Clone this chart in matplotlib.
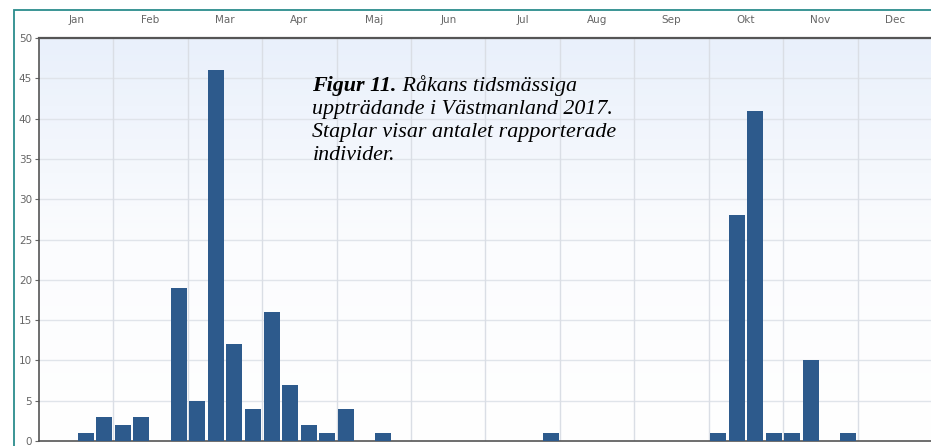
import matplotlib
matplotlib.use('Agg')

import numpy as np
import matplotlib.pyplot as plt
from matplotlib.colors import LinearSegmentedColormap
from matplotlib.patches import Rectangle

# =========================
# Data: reported individuals, four periods per month
# =========================
months = ["Jan", "Feb", "Mar", "Apr", "Maj", "Jun",
          "Jul", "Aug", "Sep", "Okt", "Nov", "Dec"]
jan = [0, 0, 1, 3]
feb = [2, 3, 0, 19]
mar = [5, 46, 12, 4]
apr = [16, 7, 2, 1]
maj = [4, 0, 1, 0]
jun = [0, 0, 0, 0]
jul = [0, 0, 0, 1]
aug = [0, 0, 0, 0]
sep = [0, 0, 0, 0]
okt = [1, 28, 41, 1]
nov = [1, 10, 0, 1]
dec = [0, 0, 0, 0]
yticks = list(range(0, 51, 5))

counts = jan + feb + mar + apr + maj + jun + jul + aug + sep + okt + nov + dec
slots = np.arange(len(counts)) + 0.5

caption_bold = "Figur 11."
caption_lines = [" Råkans tidsmässiga",
                 "uppträdande i Västmanland 2017.",
                 "Staplar visar antalet rapporterade",
                 "individer."]

# =========================
# Figure
# =========================
fig = plt.figure(figsize=(9.31, 4.46), dpi=100)
fig.patch.set_facecolor("white")

# teal frame around the chart
fig.patches.append(Rectangle((14 / 931, -0.05), 1.0, 0.05 + (446 - 10) / 446,
                             transform=fig.transFigure, fill=False,
                             edgecolor="#2b8c8c", linewidth=1.3, zorder=0))

ax = fig.add_axes([39 / 931, 5 / 446, 893 / 931, 403 / 446])
ax.set_xlim(0, 48)
ax.set_ylim(0, 50)

# light blue gradient in the plot background
grad = LinearSegmentedColormap.from_list("bg", ["#ffffff", "#fbfcfe", "#e9f0fb"])
ax.imshow(np.linspace(0, 1, 256).reshape(-1, 1), cmap=grad, aspect="auto",
          extent=[0, 48, 0, 50], origin="lower", zorder=0)

ax.bar(slots, counts, width=0.86, color="#2d5a8c", zorder=3)

# grid
for y in yticks[1:]:
    ax.axhline(y, color="#e0e4ea", linewidth=1.0, zorder=1)
for m in range(1, 12):
    ax.axvline(m * 4, color="#dadee5", linewidth=1.0, zorder=1)

# y ticks
ax.set_yticks(yticks)
ax.set_yticklabels([str(v) for v in yticks], fontsize=7.5, color="#666666")
ax.tick_params(axis="y", length=3, width=0.8, color="#666666", pad=2)

# month labels on top
ax.set_xticks(np.arange(12) * 4 + 2)
ax.set_xticklabels(months, fontsize=7.5, color="#666666")
ax.xaxis.tick_top()
ax.tick_params(axis="x", length=0, pad=9)

for s in ["left", "bottom", "top"]:
    ax.spines[s].set_color("#555555")
    ax.spines[s].set_linewidth(1.2)
ax.spines["top"].set_linewidth(1.6)
ax.spines["right"].set_visible(False)

# =========================
# Caption (bold lead-in, then italic lines)
# =========================
cap_x = 14.7
cap_y = 43.4
step_pt = 16.5  # line step in points
cap_font = dict(fontsize=15.8, style="italic", family="Liberation Serif",
                va="baseline", ha="left", zorder=5)

bold = ax.text(cap_x, cap_y, caption_bold, fontweight="bold", **cap_font)
fig.canvas.draw()
bb = bold.get_window_extent(fig.canvas.get_renderer())
x_end = ax.transData.inverted().transform((bb.x1, bb.y1))[0]

ax.text(x_end, cap_y, caption_lines[0], **cap_font)
for i, line in enumerate(caption_lines[1:], start=1):
    ax.annotate(line, xy=(cap_x, cap_y), xytext=(0, -step_pt * i),
                textcoords="offset points", **cap_font)

fig.savefig("out.png", dpi=100)
